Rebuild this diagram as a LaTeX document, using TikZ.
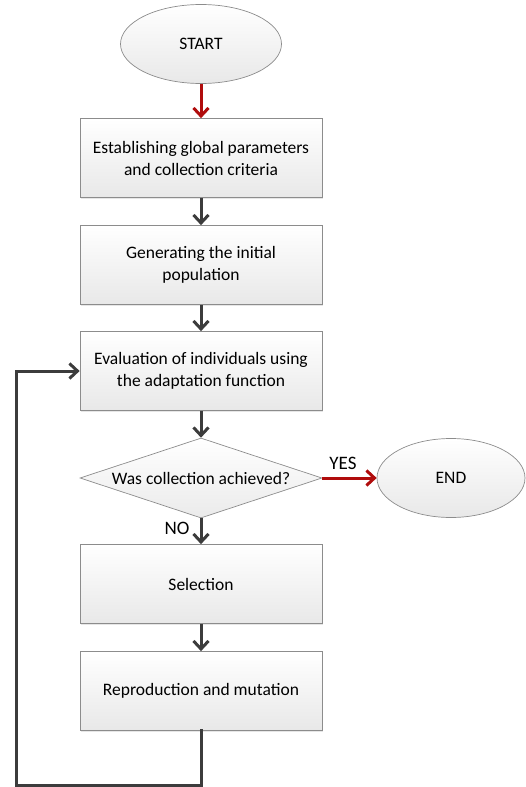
\documentclass[tikz,border=0pt]{standalone}
\usepackage{fontspec}
\setmainfont{Carlito}
\usetikzlibrary{arrows.meta,shapes.geometric,shadows}
\definecolor{arrgray}{HTML}{3C3C3C}
\definecolor{arrred}{HTML}{B00C0C}
\definecolor{edgegray}{HTML}{8C8C8C}
\begin{document}
\begin{tikzpicture}[x=1pt,y=-1pt,
  font=\fontsize{17.5}{22}\selectfont,
  proc/.style={draw=edgegray, line width=0.7pt, top color=white, bottom color=black!9,
    minimum width=242pt, minimum height=79pt, align=center, inner sep=2pt,
    drop shadow={shadow xshift=1pt, shadow yshift=-1pt, opacity=0.2}},
  term/.style={ellipse, draw=edgegray, line width=0.7pt, top color=white, bottom color=black!9,
    minimum height=79pt, inner sep=0pt},
  dec/.style={diamond, shape aspect=3, draw=edgegray, line width=0.7pt, top color=white, bottom color=black!8,
    minimum width=242pt, minimum height=80pt, inner sep=0pt},
  garr/.style={draw=arrgray, line width=3pt, -{Straight Barb[length=8pt,width=15pt,line width=3pt]}},
  rarr/.style={draw=arrred, line width=3pt, -{Straight Barb[length=8pt,width=15pt,line width=3pt]}},
  lbl/.style={inner sep=1pt, font=\fontsize{19}{22}\selectfont}
]
\useasboundingbox (0,0) rectangle (525,787);
\node[term, minimum width=161pt] (start) at (201,44) {START};
\node[proc] (p1) at (201,158) {Establishing global parameters\\and collection criteria};
\node[proc] (p2) at (201,265) {Generating the initial\\population};
\node[proc] (p3) at (201,371) {Evaluation of individuals using\\the adaptation function};
\node[dec] (d) at (201,478) {Was collection achieved?};
\node[term, minimum width=148pt] (end) at (451,478) {END};
\node[proc] (p4) at (201,584) {Selection};
\node[proc] (p5) at (201,691) {Reproduction and mutation};
\coordinate (lb) at (16,785);

\draw[rarr] (start.south) -- (p1.north);
\draw[garr] (p1.south) -- (p2.north);
\draw[garr] (p2.south) -- (p3.north);
\draw[garr] (p3.south) -- (d.north);
\draw[rarr] (d.east) -- node[lbl, above, pos=0.38, yshift=6pt] {YES} (end.west);
\draw[garr] (d.south) -- node[lbl, left, pos=0.4, xshift=-9pt] {NO} (p4.north);
\draw[garr] (p4.south) -- (p5.north);
\draw[garr, line cap=rect] (p5.south) |- (lb) |- (p3.west);
\end{tikzpicture}
\end{document}
